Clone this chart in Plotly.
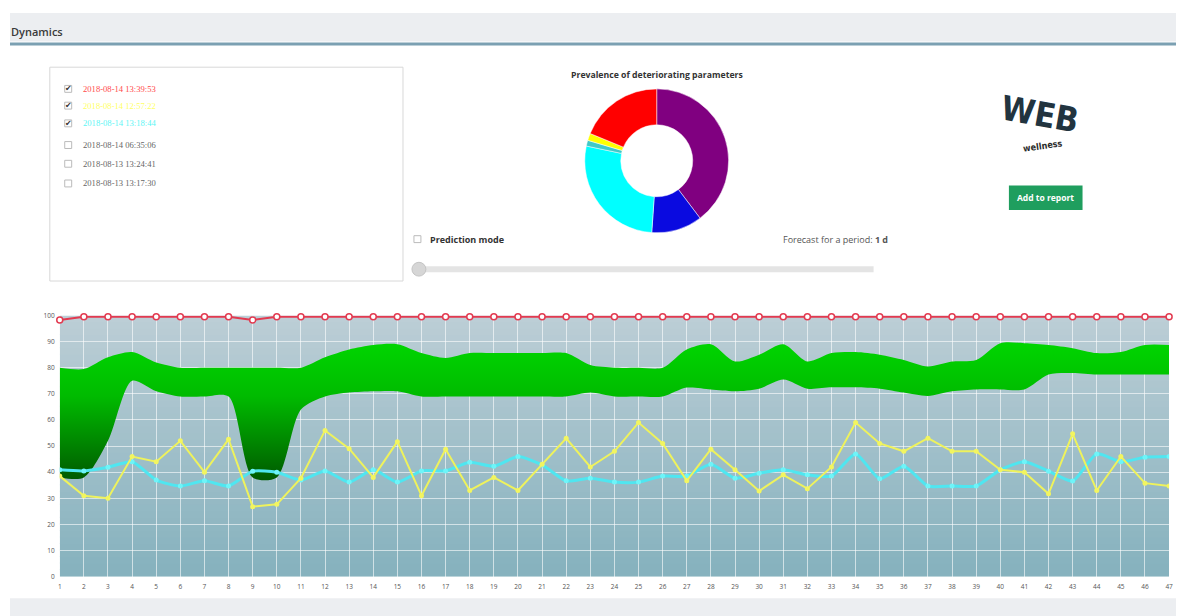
import plotly.graph_objects as go

W, H = 1184, 616
OFF = 8  # page body margin

# ---------------- data ----------------
days = list(range(1, 48))
x_tick_labels = [str(d) for d in days]
y_tick_vals = [0, 10, 20, 30, 40, 50, 60, 70, 80, 90, 100]

red_series = [98.3, 99.5, 99.5, 99.5, 99.5, 99.5, 99.5, 99.5, 98.3, 99.5,
              99.5, 99.5, 99.5, 99.5, 99.5, 99.5, 99.5, 99.5, 99.5, 99.5,
              99.5, 99.5, 99.5, 99.5, 99.5, 99.5, 99.5, 99.5, 99.5, 99.5,
              99.5, 99.5, 99.5, 99.5, 99.5, 99.5, 99.5, 99.5, 99.5, 99.5,
              99.5, 99.5, 99.5, 99.5, 99.5, 99.5, 99.5]

yellow_series = [38.5, 31, 30, 46, 44, 52, 40, 52.6, 26.8, 27.7,
                 37.7, 56, 49, 38, 51.7, 31, 48.8, 33, 38, 33,
                 43, 53, 42, 48, 59, 51, 36.7, 48.8, 40.9, 32.8,
                 39, 33.7, 42, 59, 51, 48, 53, 48, 48, 40.9,
                 40, 31.7, 54.7, 33, 46, 35.8, 34.7]

cyan_series = [40.9, 40.5, 41.9, 44, 37, 34.7, 36.7, 34.7, 40.4, 40,
               37, 40.5, 36.2, 40.9, 36.2, 40.5, 40.5, 43.8, 42.3, 46,
               42.8, 36.7, 37.7, 36.2, 36.2, 38.5, 38.5, 43, 37.7, 39.6,
               40.9, 39, 38.5, 47, 37.5, 42.3, 34.7, 34.7, 34.7, 40.9,
               44, 40.4, 36.6, 47, 44, 45.7, 46]

band_upper = [80, 79.5, 84, 86, 82, 80, 80, 80, 80, 80,
              80, 84, 87, 88.7, 89, 85.6, 83.7, 85.6, 85.6, 85.6,
              85.6, 85.6, 81, 80, 80, 80, 87, 89, 82.4, 85,
              89, 82.4, 85.6, 86, 85, 83, 80.5, 82.4, 83, 89.4,
              89.4, 88.7, 87.5, 85.6, 86, 88.7, 88.7]

band_lower = [38, 38, 52, 75, 71, 69, 69, 69, 38, 38,
              64, 69, 70.5, 71, 71, 69, 69, 69, 69, 69,
              69, 69, 70.5, 69, 69, 69, 72.4, 71.7, 71, 72,
              75.5, 72, 72.5, 72.5, 72, 70.5, 69.2, 71, 71.7, 71.7,
              71.7, 77.4, 78, 77.4, 77.4, 77.4, 77.4]

pie_labels = ["Purple", "Blue", "Cyan", "Teal", "Yellow", "Red"]
pie_values = [39.7, 11.4, 27.2, 1.3, 1.6, 18.8]
pie_colors = ["#800080", "#0a0ae0", "#00ffff", "#3fc8c8", "#ffff00", "#ff0000"]

session_labels = ["2018-08-14 13:39:53", "2018-08-14 12:57:22", "2018-08-14 13:18:44",
                  "2018-08-14 06:35:06", "2018-08-13 13:24:41", "2018-08-13 13:17:30"]
session_colors = ["#ff4a4a", "#ffff66", "#5cf5f5", "#666666", "#666666", "#666666"]
session_checked = [True, True, True, False, False, False]


def px(x):
    return (x - OFF) / W


def py(y):
    return 1 - (y - OFF) / H


fig = go.Figure()

fig.add_trace(go.Scatter(x=days, y=band_lower, mode="lines",
                         line=dict(width=0, shape="spline", smoothing=0.8),
                         hoverinfo="skip", showlegend=False))
fig.add_trace(go.Scatter(x=days, y=band_upper, mode="lines", fill="tonexty",
                         line=dict(width=0, shape="spline", smoothing=0.8),
                         fillgradient=dict(type="vertical", start=38, stop=89,
                                           colorscale=[[0, "#005a00"], [0.3, "#008a00"],
                                                       [0.62, "#00bb00"], [1, "#00d400"]]),
                         hoverinfo="skip", showlegend=False))

fig.add_trace(go.Scatter(x=days, y=cyan_series, mode="lines+markers",
                         line=dict(color="#4fe6f0", width=3, shape="spline", smoothing=0.6),
                         marker=dict(size=5, color="#6ff4f8"), showlegend=False))
fig.add_trace(go.Scatter(x=days, y=yellow_series, mode="lines+markers",
                         line=dict(color="#eef25c", width=2),
                         marker=dict(size=5, color="#f2f560"), showlegend=False))
fig.add_trace(go.Scatter(x=days, y=red_series, mode="lines+markers", cliponaxis=False,
                         line=dict(color="#e23a50", width=2),
                         marker=dict(size=6, color="white", line=dict(color="#e23a50", width=1.5)),
                         showlegend=False))

fig.add_trace(go.Pie(labels=pie_labels, values=pie_values, hole=0.5, sort=False,
                     direction="clockwise", rotation=0,
                     marker=dict(colors=pie_colors, line=dict(color="white", width=0.5)),
                     textinfo="none", showlegend=False,
                     domain=dict(x=[px(585), px(731)], y=[py(231), py(85)])))

shapes = []
# plot-area vertical gradient (style only)
top_c = (188, 206, 214)
bot_c = (134, 178, 190)
n = 40
for i in range(n):
    t = i / (n - 1)
    c = tuple(int(bot_c[k] + (top_c[k] - bot_c[k]) * t) for k in range(3))
    shapes.append(dict(type="rect", xref="x", yref="y", x0=1, x1=47,
                       y0=100 * i / n, y1=min(100, 100 * (i + 1) / n + 0.4), layer="below",
                       line=dict(width=0), fillcolor="rgb(%d,%d,%d)" % c))

# page decoration
shapes += [
    dict(type="rect", xref="paper", yref="paper", x0=0, x1=1, y0=py(37), y1=1,
         fillcolor="#eceef1", line=dict(width=0), layer="below"),
    dict(type="rect", xref="paper", yref="paper", x0=0, x1=1, y0=py(41), y1=py(38),
         fillcolor="#7ba0b2", line=dict(width=0), layer="below"),
    dict(type="rect", xref="paper", yref="paper", x0=0, x1=1, y0=0, y1=py(602),
         fillcolor="#eceef1", line=dict(width=0), layer="below"),
    dict(type="rect", xref="paper", yref="paper", x0=px(48), x1=px(403), y0=py(280), y1=py(63),
         fillcolor="white", line=dict(color="#d8d8d8", width=1), layer="below"),
    dict(type="rect", xref="paper", yref="paper", x0=px(414), x1=px(421), y0=py(241), y1=py(234),
         fillcolor="white", line=dict(color="#bbbbbb", width=1)),
    dict(type="rect", xref="paper", yref="paper", x0=px(418), x1=px(876), y0=py(271), y1=py(265),
         fillcolor="#e4e4e4", line=dict(width=0)),
    dict(type="circle", xref="paper", yref="paper", x0=px(412), x1=px(426), y0=py(275), y1=py(261),
         fillcolor="#d6d6d6", line=dict(color="#c4c4c4", width=1)),
    dict(type="rect", xref="paper", yref="paper", x0=px(1012), x1=px(1086), y0=py(208), y1=py(183),
         fillcolor="#1f9e5e", line=dict(width=0)),
]

annotations = [
    dict(text="Dynamics", x=px(7), y=py(27), xref="paper", yref="paper", showarrow=False,
         xanchor="left", yanchor="middle",
         font=dict(size=11, color="#3a3a3a", family="Open Sans", weight=600)),
    dict(text="<b>Prevalence of deteriorating parameters</b>", x=px(658), y=py(71),
         xref="paper", yref="paper", showarrow=False, xanchor="center", yanchor="middle",
         font=dict(size=8.7, color="#333333", family="Open Sans")),
    dict(text="<b>Prediction mode</b>", x=px(428), y=py(238), xref="paper", yref="paper",
         showarrow=False, xanchor="left", yanchor="middle",
         font=dict(size=9, color="#333333", family="Open Sans")),
    dict(text="Forecast for a period: <b>1 d</b>", x=px(783), y=py(238), xref="paper", yref="paper",
         showarrow=False, xanchor="left", yanchor="middle",
         font=dict(size=9, color="#555555", family="Open Sans")),
    dict(text="<b>Add to report</b>", x=px(1049), y=py(195.5), xref="paper", yref="paper",
         showarrow=False, xanchor="center", yanchor="middle",
         font=dict(size=8.5, color="white", family="Open Sans")),
    dict(text="<b>WEB</b>", x=px(1043), y=py(110), xref="paper", yref="paper",
         showarrow=False, xanchor="center", yanchor="middle", textangle=10,
         font=dict(size=34, color="#22343f", family="DejaVu Sans Condensed")),
    dict(text="<b>wellness</b>", x=px(1046), y=py(143), xref="paper", yref="paper",
         showarrow=False, xanchor="center", yanchor="middle", textangle=-8,
         font=dict(size=9, color="#2b2b2b", family="DejaVu Sans Condensed")),
]

row_y = [85, 102, 120, 142, 161, 181]
for lab, col, chk, yy in zip(session_labels, session_colors, session_checked, row_y):
    shapes.append(dict(type="rect", xref="paper", yref="paper", x0=px(63), x1=px(70),
                       y0=py(yy + 3.5), y1=py(yy - 3.5), fillcolor="white",
                       line=dict(color="#bbbbbb", width=1)))
    if chk:
        annotations.append(dict(text="✔", x=px(66.5), y=py(yy), xref="paper", yref="paper",
                                showarrow=False, xanchor="center", yanchor="middle",
                                font=dict(size=8, color="#333333", family="DejaVu Sans")))
    annotations.append(dict(text=lab, x=px(79), y=py(yy), xref="paper", yref="paper",
                            showarrow=False, xanchor="left", yanchor="middle",
                            font=dict(size=8.6, color=col, family="Liberation Serif")))

fig.update_layout(
    width=W, height=H, margin=dict(l=0, r=0, t=0, b=0),
    paper_bgcolor="white", plot_bgcolor="rgba(0,0,0,0)",
    shapes=shapes, annotations=annotations, showlegend=False,
    xaxis=dict(domain=[px(58), px(1173)], range=[1, 47], tickvals=days, ticktext=x_tick_labels,
               showgrid=True, gridcolor="rgba(255,255,255,0.6)", gridwidth=1, zeroline=False,
               tickfont=dict(size=6.5, color="#555555"), ticks="", ticklabelstandoff=5,
               fixedrange=True),
    yaxis=dict(domain=[py(580), py(315)], range=[0, 100], tickvals=y_tick_vals,
               showgrid=True, gridcolor="rgba(255,255,255,0.6)", gridwidth=1, zeroline=False,
               tickfont=dict(size=6.5, color="#555555"), ticks="", ticklabelstandoff=4,
               fixedrange=True),
)

fig.write_html("out.html")
